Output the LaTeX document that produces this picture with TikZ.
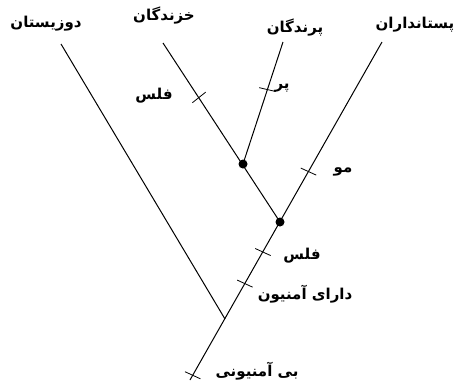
\documentclass[tikz,border=0pt]{standalone}
\usepackage{fontspec}
\newfontfamily\arabicfont[Script=Arabic]{DejaVu Sans}
\TeXXeTstate=1
\usetikzlibrary{calc}

\tikzset{
  lbl/.style={font=\arabicfont\bfseries\fontsize{15}{17}\selectfont, inner sep=0pt},
  branch/.style={line width=1pt},
}
\newcommand{\brtick}[2]{\draw[line width=0.8pt] ($(#1)!8.5pt!95:(#2)$) -- ($(#1)!8.5pt!-85:(#2)$);}

\begin{document}
\begin{tikzpicture}[x=1pt, y=-1pt]
    \useasboundingbox (0,0) rectangle (456,383);
    % tips and inner nodes
    \coordinate (amph) at (61,44);
    \coordinate (rept) at (163,43);
    \coordinate (bird) at (283,42);
    \coordinate (mamm) at (382,42);
    \coordinate (root) at (190,380);
    \coordinate (amj) at (225,319);
    \coordinate (lowN) at (280,222);
    \coordinate (upN) at (243,164);
    \node[lbl] (lAmph) at (46,24) {\beginR دوزیستان\endR};
    \node[lbl] (lRept) at (164,16) {\beginR خزندگان\endR};
    \node[lbl] (lBird) at (295,28) {\beginR پرندگان\endR};
    \node[lbl] (lMamm) at (415,25) {\beginR پستانداران\endR};
    % branches
    \draw[branch] (root) -- (mamm);
    \draw[branch] (amph) -- (amj);
    \draw[branch] (rept) -- (lowN);
    \draw[branch] (bird) -- (upN);
    \foreach \p in {lowN,upN} \fill (\p) circle (4.5pt);
    % characters
    \coordinate (tRept) at ($(upN)!0.55!(rept)$);
    \coordinate (tBird) at ($(upN)!0.61!(bird)$);
    \coordinate (tMamm) at ($(lowN)!0.28!(mamm)$);
    \coordinate (tScale) at ($(lowN)!0.19!(root)$);
    \coordinate (tAmn) at ($(lowN)!0.39!(root)$);
    \coordinate (tNoAmn) at ($(lowN)!0.97!(root)$);
    \brtick{tRept}{rept}
    \brtick{tBird}{bird}
    \brtick{tMamm}{mamm}
    \brtick{tScale}{root}
    \brtick{tAmn}{root}
    \brtick{tNoAmn}{root}
    \node[lbl] (cRept) at (154,96) {\beginR فلس\endR};
    \node[lbl] (cBird) at (282,88) {\beginR پر\endR};
    \node[lbl] (cMamm) at (343,172) {\beginR مو\endR};
    \node[lbl] (cScale) at (302,256) {\beginR فلس\endR};
    \node[lbl] (cAmn) at (305,294) {\beginR دارای آمنیون\endR};
    \node[lbl] (cNoAmn) at (257,371) {\beginR بی آمنیونی\endR};
\end{tikzpicture}
\end{document}
